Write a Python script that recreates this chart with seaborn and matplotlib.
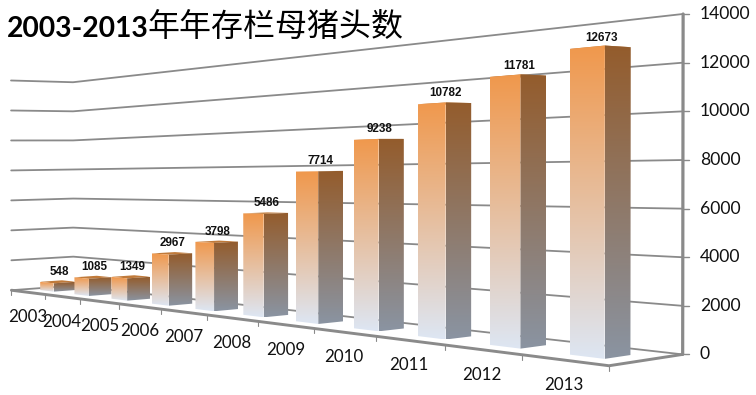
import numpy as np
import pandas as pd
import seaborn as sns
import matplotlib.pyplot as plt
from matplotlib.patches import Polygon

years = ["2003", "2004", "2005", "2006", "2007", "2008", "2009", "2010", "2011", "2012", "2013"]
sows = [548, 1085, 1349, 2967, 3798, 5486, 7714, 9238, 10782, 11781, 12673]
y_ticks = [0, 2000, 4000, 6000, 8000, 10000, 12000, 14000]
title_num = "2003-2013"
title_cjk = "年年存栏母猪头数"

ZMAX = 14000
NX = len(years)

# camera: chart box corners -> picture pixels, a 3x4 projection is fitted on them
anchors = [
    ((0, 0, 0), (11, 290)), ((11, 0, 0), (608, 365)), ((11, 1, 0), (683, 355)),
    ((0, 1, 0), (73, 285)), ((11, 1, ZMAX), (683, 14)), ((0, 1, ZMAX), (73, 83)),
    ((0, 0, ZMAX), (11, 80)), ((1, 0, 0), (45, 294)), ((2, 0, 0), (80, 299)),
    ((3, 0, 0), (119, 304)), ((4, 0, 0), (162, 310)), ((5, 0, 0), (207, 316)),
    ((6, 0, 0), (258, 323)), ((10, 0, 0), (522, 354)),
    ((10.7, 0.3, 0), (605, 358)), ((10.7, 0.3, 12673), (605, 45)), ((0.7, 0.3, 0), (54, 291)),
]


def fit_camera(anchors):
    rows = []
    for (x, y, z), (u, v) in anchors:
        p = [x, y, z / ZMAX, 1]
        rows.append(p + [0, 0, 0, 0] + [-u * c for c in p])
        rows.append([0, 0, 0, 0] + p + [-v * c for c in p])
    _, _, vt = np.linalg.svd(np.array(rows, dtype=float))
    return vt[-1].reshape(3, 4)


P = fit_camera(anchors)


def proj(x, y, z):
    h = P @ np.array([x, y, z / ZMAX, 1.0])
    return h[0] / h[2], h[1] / h[2]


def grid_frame():
    rows = []
    for t in y_ticks:
        for x, y in [(0, 0), (0, 1), (NX, 1)]:
            u, v = proj(x, y, t)
            rows.append({"u": u, "v": v, "line": t})
    return pd.DataFrame(rows)


def face(ax, c0, c1, height, top, bottom, zorder):
    # gradient image clipped to the projected bar face
    pts = [proj(c0[0], c0[1], height), proj(c1[0], c1[1], height),
           proj(c1[0], c1[1], 0), proj(c0[0], c0[1], 0)]
    us, vs = zip(*pts)
    cmap = sns.blend_palette([top, bottom], as_cmap=True)
    im = ax.imshow(np.linspace(0, 1, 256)[:, None], cmap=cmap, aspect="auto", origin="upper",
                   extent=(min(us), max(us), max(vs), min(vs)), zorder=zorder)
    im.set_clip_path(Polygon(pts, transform=ax.transData))


def make_plot(filename):
    sns.set_theme(style="white")
    plt.rcParams["font.family"] = ["Lato", "Noto Sans CJK SC", "DejaVu Sans"]
    fig, ax = plt.subplots(figsize=(7.56, 3.95), dpi=100)
    fig.subplots_adjust(0, 0, 1, 1)
    grey = "#8a8a8a"

    sns.lineplot(data=grid_frame(), x="u", y="v", units="line", estimator=None, sort=False,
                 color=grey, lw=1.3, legend=False, ax=ax, zorder=1)

    # axis edges and ticks
    ax.plot(*zip(proj(NX, 1, 0), proj(NX, 1, ZMAX)), color=grey, lw=2.3, zorder=2)
    ax.plot(*zip(proj(0, 0, 0), proj(NX, 0, 0), proj(NX, 1, 0)), color=grey, lw=2.1, zorder=2)
    for t in y_ticks:
        u, v = proj(NX, 1, t)
        ax.plot([u, u + 6], [v, v], color=grey, lw=1.0, zorder=2)
        ax.text(u + 17, v, str(t), fontsize=12.6, color="#111111", ha="left", va="center")
    for i in range(NX + 1):
        u, v = proj(i, 0, 0)
        ax.plot([u, u], [v, v + 5], color=grey, lw=0.8, zorder=2)

    a, b, c, d = 0.3, 0.7, 0.3, 0.65
    for i, (yr, val) in enumerate(zip(years, sows)):
        z = 3 + i
        top = [proj(i + a, c, val), proj(i + b, c, val), proj(i + b, d, val), proj(i + a, d, val)]
        ax.fill(*zip(*top), color="#c07a3a", lw=0, zorder=z)
        face(ax, (i + a, c), (i + b, c), val, "#f0984c", "#dde6f3", z)
        face(ax, (i + b, c), (i + b, d), val, "#945c2c", "#8a94a2", z)
        u, v = proj(i + 0.5, 0.45, val)
        ax.annotate(str(val), (u, v), xytext=(2, 3), textcoords="offset points", ha="center", va="bottom",
                    fontsize=8.4, fontweight="bold", family="Liberation Sans", color="#111111", zorder=30)
        u, v = proj(i + 0.5, 0, 0)
        ax.annotate(yr, (u, v), xytext=(0, -18), textcoords="offset points", ha="center", va="center",
                    fontsize=12.2, color="#111111", zorder=30)

    ax.text(7, 29, title_num, fontsize=20.3, fontweight="bold", color="black", ha="left", va="center")
    ax.text(147, 28, title_cjk, fontsize=23, family="Noto Sans CJK SC", color="black", ha="left", va="center")

    ax.set_xlim(0, 756)
    ax.set_ylim(395, 0)
    ax.axis("off")
    fig.savefig(filename, dpi=100)


make_plot("out.png")
